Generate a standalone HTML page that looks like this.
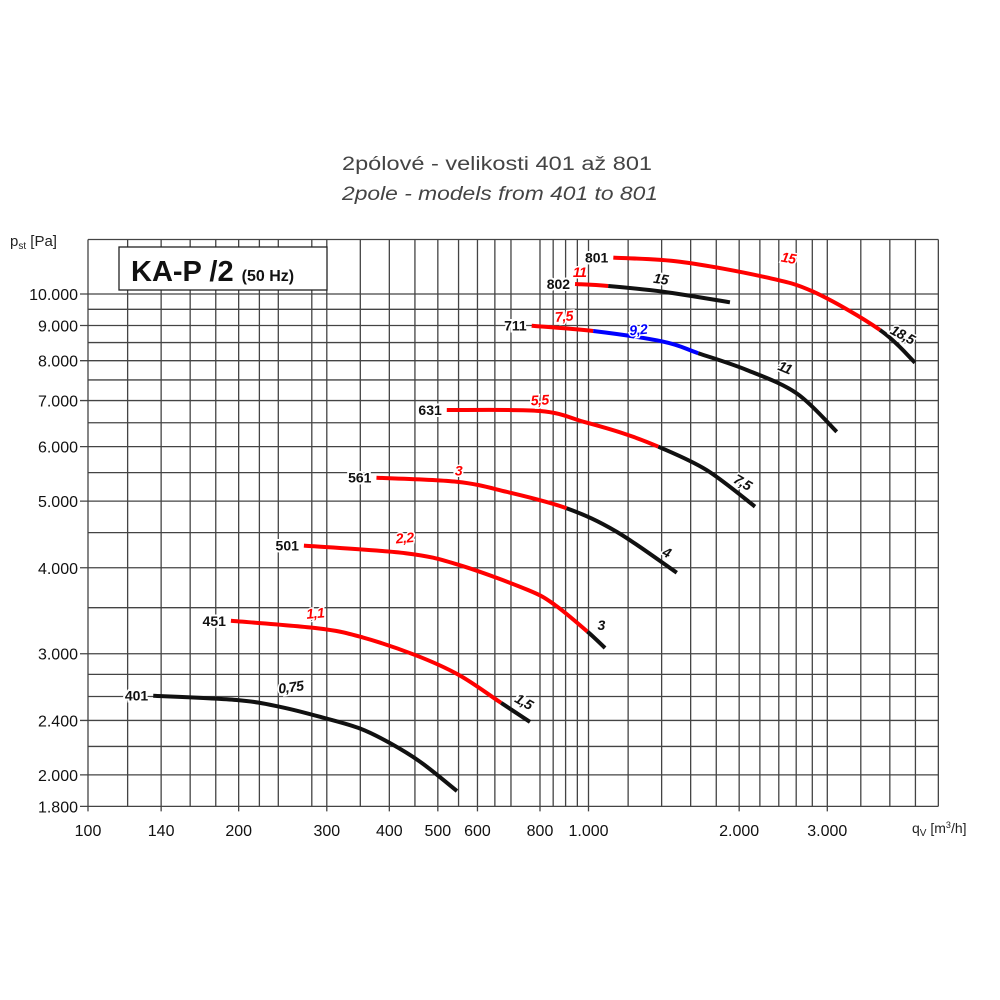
<!DOCTYPE html>
<html><head><meta charset="utf-8"><style>
body{margin:0;background:#fff}
svg{display:block;font-family:"Liberation Sans",sans-serif}
</style></head><body>
<svg id="chart" width="1000" height="1000" viewBox="0 0 1000 1000">
<text x="497" y="170" text-anchor="middle" font-size="19" fill="#444" textLength="310" lengthAdjust="spacingAndGlyphs">2pólové - velikosti 401 až 801</text>
<text x="500" y="200" text-anchor="middle" font-size="19" font-style="italic" fill="#444" textLength="316" lengthAdjust="spacingAndGlyphs">2pole - models from 401 to 801</text>
<text x="10" y="246" font-size="15" fill="#222">p<tspan font-size="10" dy="3">st</tspan><tspan dy="-3"> [Pa]</tspan></text>
<text x="912" y="833" font-size="14" fill="#222">q<tspan font-size="10" dy="3">V</tspan><tspan dy="-3"> [m</tspan><tspan font-size="9" dy="-5">3</tspan><tspan dy="5">/h]</tspan></text>
<g id="grid"></g>
<g id="curves"></g>
<g id="labels"></g>
<g>
<rect x="119" y="247" width="208" height="43" fill="#fff" stroke="#222" stroke-width="1.3"/>
<text x="131" y="281" font-size="29" font-weight="bold" fill="#111">KA-P /2 <tspan font-size="16">(50 Hz)</tspan></text>
</g>
</svg>
<script>
const xGrid=[100,120,140,160,180,200,220,240,280,300,350,400,450,500,550,600,650,700,800,850,900,950,1000,1200,1400,1600,1800,2000,2200,2400,2600,2800,3000,3500,4000,4500,5000];
const yGrid=[1800,2000,2200,2400,2600,2800,3000,3500,4000,4500,5000,5500,6000,6500,7000,7500,8000,8500,9000,9500,10000,12000];
const xTicks=[100,140,200,300,400,500,600,800,1000,2000,3000];
const xTickLabels=["100","140","200","300","400","500","600","800","1.000","2.000","3.000"];
const yTicks=[1800,2000,2400,3000,4000,5000,6000,7000,8000,9000,10000];
const yTickLabels=["1.800","2.000","2.400","3.000","4.000","5.000","6.000","7.000","8.000","9.000","10.000"];

const c401q=[135,198,243,297,350,401,463,546];
const c401p=[2607,2570,2510,2419,2335,2225,2085,1895];
const c401col=["k","k","k","k","k","k","k"];
const c451q=[193,287,349,450,551,669,764];
const c451p=[3350,3267,3177,2988,2794,2545,2388];
const c451col=["r","r","r","r","r","k"];
const c501q=[270,431,551,757,857,995,1079];
const c501p=[4308,4200,4038,3713,3532,3231,3058];
const c501col=["r","r","r","r","r","k"];
const c561q=[377,545,686,904,1138,1501];
const c561p=[5407,5335,5158,4882,4513,3934];
const c561col=["r","r","r","k","k"];
const c631q=[521,800,976,1173,1379,1722,2151];
const c631p=[6782,6760,6523,6273,5998,5547,4909];
const c631col=["r","r","r","r","k","k"];
const c711q=[770,1022,1411,1657,2071,2606,3133];
const c711p=[8993,8835,8525,8202,7755,7171,6306];
const c711col=["r","b","b","k","k","k"];
const c802q=[940,1095,1411,1917];
const c802p=[10340,10271,10076,9726];
const c802col=["r","k","k"];
const c801q=[1121,1523,2235,2813,3823,4490];
const c801p=[11293,11140,10595,10076,8865,7948];
const c801col=["r","r","r","r","k"];

const curveNames=["401","451","501","561","631","711","802","801"];
const curveQ=[c401q,c451q,c501q,c561q,c631q,c711q,c802q,c801q];
const curveP=[c401p,c451p,c501p,c561p,c631p,c711p,c802p,c801p];
const curveCol=[c401col,c451col,c501col,c561col,c631col,c711col,c802col,c801col];
const powerLabels=[
 [0,"0,75",255,2640,"k",-8],
 [1,"1,1",285,3380,"r",-5],[1,"1,5",735,2520,"k",30],
 [2,"2,2",430,4350,"r",-5],[2,"3",1060,3250,"k",0],
 [3,"3",550,5450,"r",0],[3,"4",1420,4150,"k",25],
 [4,"5,5",800,6900,"r",-3],[4,"7,5",2010,5250,"k",30],
 [5,"7,5",895,9130,"r",-5],[5,"9,2",1260,8730,"b",-5],[5,"11",2450,7700,"k",22],
 [6,"11",960,10580,"r",0],[6,"15",1390,10350,"k",8],
 [7,"15",2500,11100,"r",10],[7,"18,5",4200,8600,"k",28]
];

const X0=88,XD=500.5,Y0=294,YD=688;
function sx(q){return X0+(Math.log10(q)-2)*XD;}
function sy(p){return Y0-(Math.log10(p)-4)*YD;}
const NS="http://www.w3.org/2000/svg";
const COLORS={k:"#111",r:"#f00",b:"#00f"};
function mk(tag,attrs,parent){const e=document.createElementNS(NS,tag);for(const k in attrs)e.setAttribute(k,attrs[k]);parent.appendChild(e);return e;}
const grid=document.getElementById('grid');
const L=sx(100),R=sx(5000),T=sy(12000),B=sy(1800);
xGrid.forEach(v=>{const l=mk('line',{x1:sx(v),x2:sx(v),y1:T,y2:B+(xTicks.includes(v)?5:0),stroke:"#444","stroke-width":1.3},grid);

});
yGrid.forEach(v=>{const l=mk('line',{x1:L-(yTicks.includes(v)?8:0),x2:R,y1:sy(v),y2:sy(v),stroke:"#444","stroke-width":1.3},grid);

});
xTicks.forEach((v,i)=>{const t=mk('text',{x:sx(v),y:836,"text-anchor":"middle","font-size":16,fill:"#111"},grid);t.textContent=xTickLabels[i];

});
yTicks.forEach((v,i)=>{const t=mk('text',{x:78,y:sy(v)+6,"text-anchor":"end","font-size":16,fill:"#111"},grid);t.textContent=yTickLabels[i];

});

function seg(pts,i){
 const p0=pts[Math.max(i-1,0)],p1=pts[i],p2=pts[i+1],p3=pts[Math.min(i+2,pts.length-1)];
 const c1=[p1[0]+(p2[0]-p0[0])/6,p1[1]+(p2[1]-p0[1])/6],c2=[p2[0]-(p3[0]-p1[0])/6,p2[1]-(p3[1]-p1[1])/6];
 return `C${c1[0]},${c1[1]} ${c2[0]},${c2[1]} ${p2[0]},${p2[1]}`;
}
const cg=document.getElementById('curves'),lg=document.getElementById('labels');
curveNames.forEach((name,ci)=>{
 const pts=curveQ[ci].map((q,j)=>[sx(q),sy(curveP[ci][j])]);
 const cols=curveCol[ci];
 let i=0;
 while(i<cols.length){let j=i;while(j<cols.length&&cols[j]===cols[i])j++;
  let d=`M${pts[i][0]},${pts[i][1]}`;for(let k=i;k<j;k++)d+=seg(pts,k);
  const p=mk('path',{d:d,fill:"none",stroke:COLORS[cols[i]],"stroke-width":4},cg);
  
  
  i=j;}
 const t=mk('text',{x:pts[0][0]-5,y:pts[0][1]+5,"text-anchor":"end","font-size":14,"font-weight":"bold",fill:"#111",stroke:"#fff","stroke-width":4,"paint-order":"stroke"},lg);
 t.textContent=name;
 
 
});
powerLabels.forEach(pl=>{
 const x=sx(pl[2]),y=sy(pl[3]);
 const t=mk('text',{x:x,y:y,"text-anchor":"middle","font-size":14,"font-weight":"bold","font-style":"italic","letter-spacing":"-0.5",fill:COLORS[pl[4]],stroke:"#fff","stroke-width":3,"paint-order":"stroke",transform:`rotate(${pl[5]} ${x} ${y})`},lg);
 t.textContent=pl[1];
 
 
});
</script>
</body></html>
